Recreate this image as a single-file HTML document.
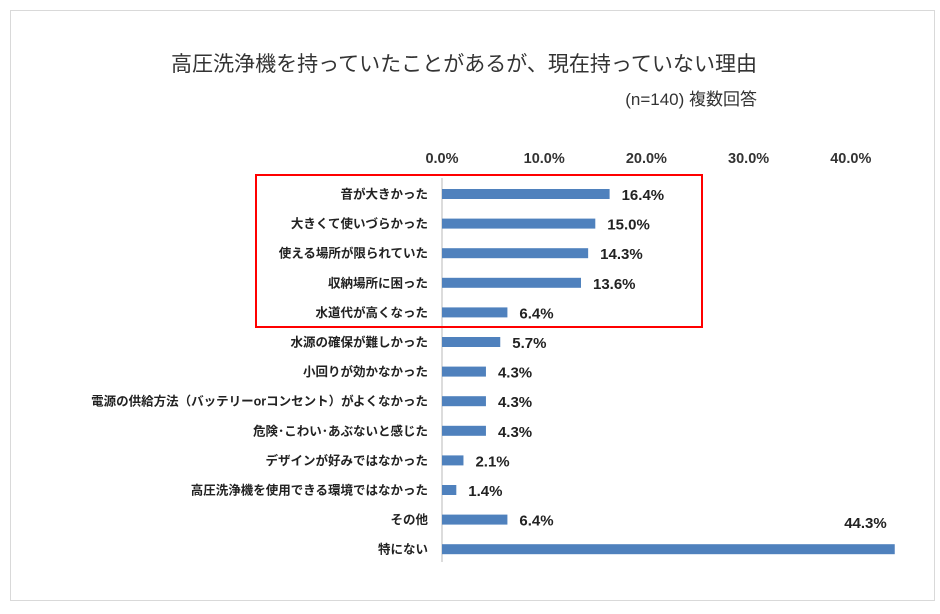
<!DOCTYPE html>
<html><head><meta charset="utf-8">
<style>
html,body{margin:0;padding:0;background:#fff;}
svg text{font-family:"Liberation Sans","Noto Sans CJK JP",sans-serif;}
</style></head>
<body>
<svg width="940" height="609" xmlns="http://www.w3.org/2000/svg">
<rect x="10.5" y="10.5" width="924" height="590" fill="#fff" stroke="#d9d9d9"/>
<text x="171" y="71" font-size="21" fill="#333" textLength="586" lengthAdjust="spacingAndGlyphs">高圧洗浄機を持っていたことがあるが、現在持っていない理由</text>
<text x="757" y="105" font-size="17" fill="#333" text-anchor="end">(n=140) 複数回答</text>
<g id="ticks"></g>
<line x1="442" y1="178" x2="442" y2="562" stroke="#d0d0d0" stroke-width="1.5"/>
<g id="bars"></g>
<rect x="256" y="175" width="446" height="152" fill="none" stroke="#ff0000" stroke-width="2"/>
</svg>
<script>
const categories=["音が大きかった","大きくて使いづらかった","使える場所が限られていた","収納場所に困った","水道代が高くなった","水源の確保が難しかった","小回りが効かなかった","電源の供給方法（バッテリーorコンセント）がよくなかった","危険･こわい･あぶないと感じた","デザインが好みではなかった","高圧洗浄機を使用できる環境ではなかった","その他","特にない"];
const values=[16.4,15.0,14.3,13.6,6.4,5.7,4.3,4.3,4.3,2.1,1.4,6.4,44.3];
const tickValues=[0,10,20,30,40];
const tickLabels=["0.0%","10.0%","20.0%","30.0%","40.0%"];
const NS="http://www.w3.org/2000/svg";
const x0=442,pxPer=10.22;
function xs(v){return x0+v*pxPer;}
function ys(i){return 194+i*29.6;}
const tg=document.getElementById('ticks');
tickValues.forEach((t,i)=>{
  const e=document.createElementNS(NS,'text');
  e.setAttribute('x',xs(t));e.setAttribute('y',163);
  e.setAttribute('text-anchor','middle');e.setAttribute('font-size','14.5');
  e.setAttribute('font-weight','bold');e.setAttribute('fill','#333');
  
  
  e.textContent=tickLabels[i];tg.appendChild(e);
});
const bg=document.getElementById('bars');
categories.forEach((c,i)=>{
  const y=ys(i);
  const l=document.createElementNS(NS,'text');
  l.setAttribute('x',428);l.setAttribute('y',y+4.5);
  l.setAttribute('text-anchor','end');l.setAttribute('font-size','12.5');
  l.setAttribute('font-weight','bold');l.setAttribute('fill','#222');
  
  
  l.textContent=c;bg.appendChild(l);
  const r=document.createElementNS(NS,'rect');
  r.setAttribute('x',x0);r.setAttribute('y',y-5);
  r.setAttribute('width',xs(values[i])-x0);r.setAttribute('height',10);
  r.setAttribute('fill','#4f81bd');
  
  
  bg.appendChild(r);
  const v=document.createElementNS(NS,'text');
  const end=xs(values[i]);
  if(end>800){v.setAttribute('x',end-8);v.setAttribute('y',y-21);v.setAttribute('text-anchor','end');}
  else{v.setAttribute('x',end+12);v.setAttribute('y',y+6);}
  v.setAttribute('font-size','15');v.setAttribute('font-weight','bold');v.setAttribute('fill','#222');
  
  
  v.textContent=values[i].toFixed(1)+'%';bg.appendChild(v);
});
</script>
</body></html>
